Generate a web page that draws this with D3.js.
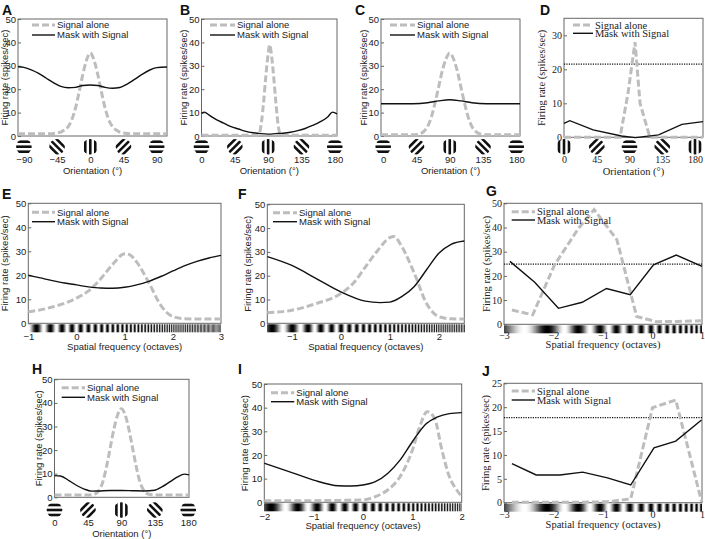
<!DOCTYPE html>
<html>
<head>
<meta charset="utf-8">
<script src="https://cdn.jsdelivr.net/npm/d3@7"></script>
<style>
  body { margin: 0; background: #fff; }
</style>
</head>
<body>
<div id="viz"></div>
<script>
// ---- data ----
const yTicks50 = [0, 10, 20, 30, 40, 50];
const yTicksD = [0, 10, 20, 30];
const yTicksJ = [0, 5, 10, 15, 20, 25];

const oriA = [-90, -45, 0, 45, 90];
const ori180 = [0, 45, 90, 135, 180];
// stripe angle of the grating drawn under each tick (0 = vertical stripes)
const iconsA = [-90, -45, 0, 45, 90];
const iconsB = [90, 45, 0, -45, -90];
const iconsD = [0, 45, 90, 135, 180];

const sfE = [-1, 0, 1, 2, 3];
const sfF = [-1, 0, 1, 2];
const sfG = [-3, -2, -1, 0, 1];
const sfI = [-2, -1, 0, 1, 2];

const sigA = [[-98,1],[-55,1],[-50,1.1],[-45,1.3],[-40,1.7],[-35,2.6],[-30,4],[-25,7],[-20,12],[-15,19],[-10,26.5],[-5,32.5],[0,35.5],[5,32.5],[10,26.5],[15,19],[20,12],[25,7],[30,4],[35,2.6],[40,1.7],[45,1.3],[50,1.1],[55,1],[104,1]];
const maskA = [[-98,29.6],[-90,29.3],[-80,28.3],[-70,26.8],[-60,24.8],[-50,22.8],[-40,21.2],[-30,20.6],[-20,20.8],[-10,21.6],[0,21.8],[10,21.6],[20,20.8],[30,20.4],[40,20.7],[50,22.2],[60,24.2],[70,26.3],[80,28.1],[90,29.2],[104,29.5]];

const sigB = [[0,0.3],[74,0.3],[78,1],[81,6],[84,15],[87,26],[90,35],[92,39],[94,36],[97,27],[100,16],[103,6],[106,1],[109,0.3],[183,0.3]];
const maskB = [[0,9.7],[4,10.2],[10,9],[20,7],[30,5.5],[40,4],[50,3],[60,2],[70,1.4],[80,1],[90,0.8],[100,1],[110,1.2],[120,1.6],[130,2.3],[140,3.2],[150,4.5],[160,6],[170,8],[177,10.2],[183,9.5]];

const sigC = [[-3,0.5],[40,0.5],[50,1],[55,2],[60,4],[65,8],[70,14],[75,21],[80,28],[85,33],[90,35.5],[95,33],[100,28],[105,21],[110,14],[115,8],[120,4],[125,2],[130,1],[140,0.5],[185,0.5]];
const maskC = [[-3,13.8],[40,13.8],[60,14.2],[75,15],[90,15.5],[105,15],[120,14.2],[140,13.8],[185,13.8]];

const sigD = [[0,0],[77,0],[88,13],[97.6,28],[104.5,10],[118,0],[191,0]];
const maskD = [[0,4.1],[8,4.9],[40,2.2],[79,0.4],[98,-0.1],[130,0.7],[162,3.8],[191,4.6]];
const baseD = 21.5;

const sigE = [[-1,4.8],[-0.75,5.6],[-0.5,6.8],[-0.25,8.3],[0,10.5],[0.25,13.5],[0.5,18.5],[0.75,24.5],[1,29],[1.1,28.6],[1.25,25.5],[1.5,17],[1.75,7.5],[2,2.8],[2.25,1.9],[2.5,1.8],[3,1.8]];
const maskE = [[-1,20],[-0.75,18.9],[-0.5,17.8],[-0.25,16.8],[0,16],[0.25,15.2],[0.5,14.7],[0.75,14.6],[1,15],[1.25,16],[1.5,17.5],[1.75,19.5],[2,21.8],[2.25,24],[2.5,25.8],[2.75,27.2],[3,28.3]];

const sigF = [[-1.5,4.4],[-1,5.5],[-0.5,8.3],[0,12.5],[0.25,16.7],[0.5,23.6],[0.75,30.5],[1,36],[1.08,36.5],[1.25,32],[1.5,21],[1.75,8.3],[2,2.8],[2.25,1.9],[2.52,1.8]];
const maskF = [[-1.5,28],[-1,24.3],[-0.5,18.8],[0,13.2],[0.5,9.3],[0.8,8.7],[1,8.9],[1.25,11.3],[1.5,15.5],[1.75,22.5],[2,29.4],[2.25,33.2],[2.52,34.6]];

const sigG = [[-2.84,5.9],[-2.42,3.9],[-1.98,24.5],[-1.5,39.5],[-1.18,47.4],[-0.72,35],[-0.32,3.2],[0.08,1.1],[0.5,1.2],[1,1.5]];
const maskG = [[-2.88,26],[-2.38,17.4],[-1.9,6.6],[-1.42,9.1],[-0.93,14.8],[-0.45,12.2],[0.02,24.6],[0.48,28.6],[1,23.9]];
const baseG = 24.9;

const sigH = [[0,1],[45,1],[55,1.5],[60,3],[65,6.5],[70,13],[75,21],[80,29],[85,35],[90,37.5],[95,35],[100,29],[105,21],[110,13],[115,6.5],[120,3],[125,1.5],[135,1],[181,1]];
const maskH = [[0,9.2],[8,9],[20,7],[30,5],[40,3.5],[50,2.6],[60,2.7],[75,2.9],[90,2.9],[105,2.8],[120,2.7],[135,3],[145,4.5],[155,6.5],[165,8.5],[175,9.8],[181,9.5]];

const sigI = [[-2,0.7],[-1,0.7],[-0.5,0.8],[0,1],[0.25,2.4],[0.5,5.2],[0.75,10.8],[1,22],[1.15,32],[1.3,38.3],[1.45,35.5],[1.6,22],[1.75,10.8],[1.9,5.2],[2,2.4]];
const maskI = [[-2,16.5],[-1.5,13],[-1,9.4],[-0.5,7],[-0.25,6.9],[0,7.3],[0.25,8.7],[0.5,12.2],[0.75,17.8],[1,25.6],[1.25,32.6],[1.5,36],[1.75,37.5],[2,37.9]];

const sigJ = [[-2.84,0.1],[-2.35,0.1],[-1.87,0.1],[-1.41,0.1],[-0.91,0.2],[-0.44,0.8],[0,19.9],[0.47,21.5],[0.99,0.3]];
const maskJ = [[-2.84,8.2],[-2.35,5.8],[-1.87,5.8],[-1.41,6.4],[-0.91,5.2],[-0.44,3.7],[0.03,11.5],[0.47,12.9],[0.99,17.3]];
const baseJ = 17.8;

const legendNames = ["Signal alone", "Mask with Signal"];
const yTitle = "Firing rate (spikes/sec)";
const oriTitle = "Orientation (°)";
const sfTitle = "Spatial frequency (octaves)";

// ---- layout ----
const SANS = "'Liberation Sans', Arial, sans-serif";
const SERIF = "'Liberation Serif', 'Times New Roman', serif";

const panels = [
  {id:"A", lxy:[2,14.5], x0:18, x1:167, y0:19, y1:136, xDom:[-98,104], yDom:[0,50], yTicks:yTicks50, xTicks:oriA, icons:iconsA, iconDy:10.7, xPad:20.6, titleY:173.5, yLabX:5, sig:sigA, mask:maskA, lg:[32,25,23,10]},
  {id:"B", lxy:[180,14.5], x0:201.5, x1:337, y0:19, y1:136, xDom:[0,183], yDom:[0,50], yTicks:yTicks50, xTicks:ori180, icons:iconsB, iconDy:10.7, xPad:20.6, titleY:173.5, yLabX:184, sig:sigB, mask:maskB, lg:[210,25,25,10]},
  {id:"C", lxy:[355,14.5], x0:381, x1:520, y0:19, y1:136, xDom:[-3,185], yDom:[0,50], yTicks:yTicks50, xTicks:ori180, icons:iconsB, iconDy:10.7, xPad:20.6, titleY:173.5, yLabX:363.3, sig:sigC, mask:maskC, lg:[390,25,25,10]},
  {id:"D", serif:true, lxy:[540,14.5], x0:564, x1:703, y0:18.3, y1:137.3, xDom:[0,191], yDom:[0,35], yTicks:yTicksD, xTicks:ori180, icons:iconsD, iconDy:9.4, xPad:18.7, titleY:175, yLabX:541.7, sig:sigD, mask:maskD, base:baseD, lg:[573,25,20,8.3]},
  {id:"E", lxy:[2,198.5], x0:28.3, x1:221, y0:203.3, y1:323.3, xDom:[-1,3], yDom:[0,50], yTicks:yTicks50, xTicks:sfE, chirp:0, xPad:9.5, titleY:349.5, yLabX:5, sig:sigE, mask:maskE, lg:[32,212.3,23,9.4]},
  {id:"F", lxy:[238,198.5], x0:267.3, x1:464.3, y0:204.3, y1:323.3, xDom:[-1.5,2.52], yDom:[0,50], yTicks:yTicks50, xTicks:sfF, chirp:0.47, xPad:9.5, titleY:349.5, yLabX:247.7, sig:sigF, mask:maskF, lg:[273,212.7,24,9]},
  {id:"G", serif:true, lxy:[486,195.5], x0:504, x1:702, y0:203.3, y1:324.3, xDom:[-3,1], yDom:[0,50], yTicks:yTicks50, xTicks:sfG, chirp:-0.33, xPad:7.3, titleY:348, yLabX:486.7, sig:sigG, mask:maskG, base:baseG, lg:[511.7,211.7,23.3,8.3]},
  {id:"H", lxy:[32,373.5], x0:54.5, x1:189, y0:379.3, y1:497.3, xDom:[0,181], yDom:[0,50], yTicks:yTicks50, xTicks:ori180, icons:iconsB, iconDy:12.7, xPad:22, titleY:536.5, yLabX:38.3, sig:sigH, mask:maskH, lg:[61.7,387.7,23.3,9.6]},
  {id:"I", lxy:[238,373.5], x0:264.3, x1:461.7, y0:384, y1:502.3, xDom:[-2,2], yDom:[0,50], yTicks:yTicks50, xTicks:sfI, chirp:0.3, xPad:10.5, titleY:529, yLabX:245, sig:sigI, mask:maskI, lg:[271,392.7,23.3,9]},
  {id:"J", serif:true, lxy:[482,375.5], x0:504, x1:702, y0:383.3, y1:502.7, xDom:[-3,1], yDom:[0,25], yTicks:yTicksJ, xTicks:sfG, chirp:-0.33, xPad:8.5, titleY:528, yLabX:485, sig:sigJ, mask:maskJ, base:baseJ, lg:[511.7,391,23.3,9]}
];

const svg = d3.select("#viz")
    .append("svg")
    .attr("width", 705)
    .attr("height", 539);

svg.append("defs").append("clipPath")
    .attr("id", "iconClip")
    .append("circle").attr("r", 7.8);

// small striped disc under an orientation tick
function icon(g, cx, cy, angle) {
    const ig = g.append("g")
        .attr("transform", `translate(${cx},${cy})`)
        .attr("clip-path", "url(#iconClip)");
    ig.append("circle").attr("r", 7.8).attr("fill", "#fff");
    const s = ig.append("g").attr("transform", `rotate(${angle})`);
    [-10, -5, 0, 5, 10].forEach(k => {
        s.append("rect")
            .attr("x", k - 1.3).attr("y", -9)
            .attr("width", 2.6).attr("height", 18)
            .attr("fill", "#111");
    });
}

// grating strip whose frequency doubles every octave
function chirp(g, x, p) {
    const top = p.y1 + 1, h = 8;
    for (let px = Math.floor(p.x0); px < Math.ceil(p.x1); px++) {
        let v = 0;
        [0.17, 0.5, 0.83].forEach(o => {
            const oct = x.invert(px + o);
            v += 0.5 + 0.5 * Math.cos(2 * Math.PI * (8 * Math.pow(2, oct) + p.chirp));
        });
        const c = Math.round(255 * v / 3);
        g.append("rect")
            .attr("x", px).attr("y", top)
            .attr("width", 1).attr("height", h)
            .attr("fill", `rgb(${c},${c},${c})`);
    }
}

function drawPanel(p) {
    const font = p.serif ? SERIF : SANS;
    const fs = p.serif ? 10 : 9.5;
    const g = svg.append("g")
        .attr("font-family", font)
        .attr("font-size", fs);

    const x = d3.scaleLinear().domain(p.xDom).range([p.x0, p.x1]);
    const y = d3.scaleLinear().domain(p.yDom).range([p.y1, p.y0]);

    // 1. stimulus strip or icons
    if (p.chirp !== undefined) chirp(g, x, p);
    else p.xTicks.forEach((t, i) => icon(g, x(t), p.y1 + p.iconDy, p.icons[i]));

    // 2. frame
    g.append("rect")
        .attr("x", p.x0).attr("y", p.y0)
        .attr("width", p.x1 - p.x0).attr("height", p.y1 - p.y0)
        .attr("fill", "none").attr("stroke", "#666").attr("stroke-width", 1);

    // 3. axes
    const ya = g.append("g")
        .attr("transform", `translate(${p.x0},0)`)
        .call(d3.axisLeft(y).tickValues(p.yTicks).tickSize(-3).tickPadding(2));
    ya.select(".domain").remove();
    ya.attr("font-family", font).attr("font-size", fs);
    ya.selectAll("line").attr("stroke", "#666");
    ya.selectAll("text").attr("fill", "#222");

    const xa = g.append("g")
        .attr("transform", `translate(0,${p.y1})`)
        .call(d3.axisBottom(x).tickValues(p.xTicks).tickFormat(d3.format("d"))
            .tickSize(0).tickPadding(p.xPad));
    xa.select(".domain").remove();
    xa.attr("font-family", font).attr("font-size", fs);
    xa.selectAll("text").attr("fill", "#222");

    // 4. dotted reference line
    if (p.base !== undefined) {
        g.append("line")
            .attr("x1", p.x0).attr("x2", p.x1)
            .attr("y1", y(p.base)).attr("y2", y(p.base))
            .attr("stroke", "#111").attr("stroke-width", 1.2)
            .attr("stroke-dasharray", "1.2,1.2");
    }

    // 5. curves
    const line = d3.line()
        .x(d => x(d[0]))
        .y(d => y(d[1]))
        .curve(p.serif ? d3.curveLinear : d3.curveMonotoneX);

    g.append("path")
        .datum(p.sig)
        .attr("d", line)
        .attr("fill", "none")
        .attr("stroke", "#bdbdbd")
        .attr("stroke-width", 3)
        .attr("stroke-dasharray", "7,3");

    g.append("path")
        .datum(p.mask)
        .attr("d", line)
        .attr("fill", "none")
        .attr("stroke", "#111")
        .attr("stroke-width", 1.4);

    // 6. legend
    const [lx, ly, lw, gap] = p.lg;
    const lg = g.append("g").attr("transform", `translate(${lx},${ly})`);
    lg.append("line").attr("x1", 0).attr("x2", lw).attr("y1", 0).attr("y2", 0)
        .attr("stroke", "#bdbdbd").attr("stroke-width", 3).attr("stroke-dasharray", "7,3");
    lg.append("line").attr("x1", 0).attr("x2", lw).attr("y1", gap).attr("y2", gap)
        .attr("stroke", "#111").attr("stroke-width", 1.4);
    legendNames.forEach((n, i) => {
        lg.append("text")
            .attr("x", lw + 2).attr("y", i * gap)
            .attr("dy", "0.35em")
            .attr("font-size", p.serif ? 10.5 : 9.5)
            .attr("fill", "#222")
            .text(n);
    });

    // 7. titles
    g.append("text")
        .attr("x", (p.x0 + p.x1) / 2)
        .attr("y", p.titleY)
        .attr("text-anchor", "middle")
        .attr("font-size", p.serif ? 10.5 : 9.5)
        .attr("fill", "#222")
        .text(p.chirp !== undefined ? sfTitle : oriTitle);

    g.append("text")
        .attr("transform", `translate(${p.yLabX},${(p.y0 + p.y1) / 2}) rotate(-90)`)
        .attr("text-anchor", "middle")
        .attr("dy", "0.35em")
        .attr("font-size", p.serif ? 10.5 : 9.5)
        .attr("fill", "#222")
        .text(yTitle);

    svg.append("text")
        .attr("x", p.lxy[0]).attr("y", p.lxy[1])
        .attr("font-family", SANS)
        .attr("font-weight", "bold")
        .attr("font-size", 14)
        .attr("fill", "#111")
        .text(p.id);
}

panels.forEach(drawPanel);
</script>
</body>
</html>
